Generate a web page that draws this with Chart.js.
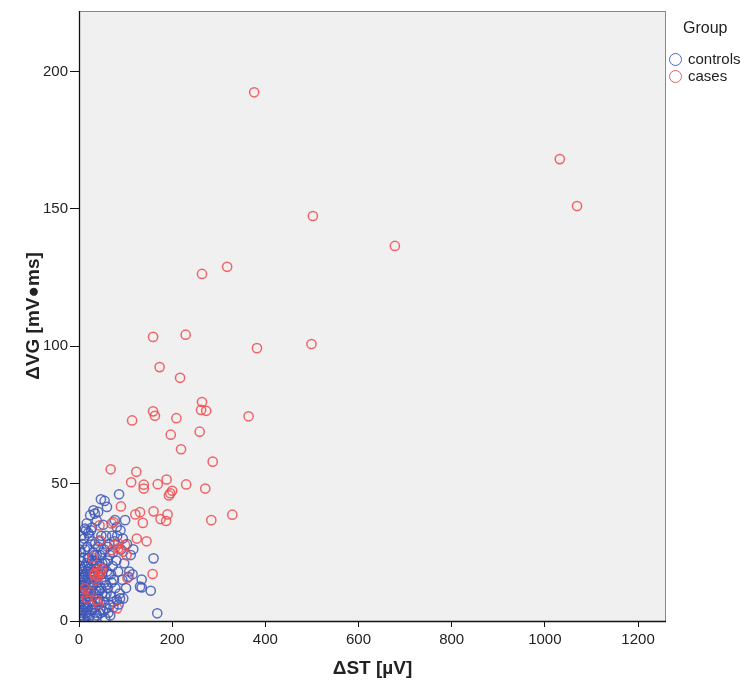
<!DOCTYPE html>
<html>
<head>
<meta charset="utf-8">
<script src="https://cdn.jsdelivr.net/npm/chart.js@4"></script>
<style>
  body { margin: 0; background: #fff; }
  #wrap { position: relative; width: 746px; height: 685px; }
  #legend { position: absolute; left: 669px; top: 19px; font-family: "Liberation Sans", Arial, sans-serif; color: #222; }
  #legend .ttl { font-size: 16px; margin-left: 14px; height: 20px; margin-bottom: 11px; }
  #legend .item { font-size: 15px; height: 17px; line-height: 17px; white-space: nowrap; }
  #legend .dot { display: inline-block; box-sizing: border-box; width: 13px; height: 13px; border-radius: 50%; border: 1.7px solid; vertical-align: -2px; margin-right: 6px; }
</style>
</head>
<body>
<div id="wrap">
  <canvas id="myChart" width="746" height="685"></canvas>
  <div id="legend">
    <div class="ttl">Group</div>
    <div class="item"><span class="dot" style="border-color: rgb(80,100,190)"></span>controls</div>
    <div class="item"><span class="dot" style="border-color: rgb(240,90,95)"></span>cases</div>
  </div>
</div>
<script>
// values: [ΔST, ΔVG]
const controls = [
  [86,46.1],[47,44.3],[55,43.7],[60,41.5],[31,40.3],[41,39.7],[34,39.1],[24,38.5],[38,36.5],[16.5,35.5],
  [13,33.6],[77,36.7],[99,36.7],[81,34.2],[52,35],[28,34],[20,32],[116.5,26.1],[160,22.8],[106,16.1],
  [115,17],[134.5,15.1],[131,12.5],[134.5,12.2],[154,11],[168,2.8],
  [88,8.2],[95,8.2],[81,7.6],[74,7],[66.5,5.8],[59,4.6],[52,3.4],[45,2.8],
  [2,1],[4,3],[1,6],[6,2],[9,4],[3,9],[7,7],[11,1],[13,5],[5,12],[10,10],[15,3],[17,8],[8,15],[12,13],
  [19,5],[21,11],[14,17],[6,19],[18,15],[23,2],[25,7],[16,21],[10,23],[3,16],[20,19],[27,13],[29,4],
  [24,17],[13,26],[7,28],[22,23],[31,9],[33,15],[26,21],[18,27],[11,30],[4,25],[30,25],[35,5],[37,11],
  [28,29],[36,19],[39,2],[40,14],[34,28],[42,8],[44,20],[22,31],[38,24],[46,4],[47,12],[43,29],[49,17],
  [51,25],[53,7],[55,14],[48,31],[57,21],[59,10],[61,27],[63,3],[64,17],[66,24],[68,9],[70,14],[58,31],
  [72,20],[74,5],[76,29],[78,12],[80,22],[84,18],[87,10],[90,26],[93,15],[97,21],[101,12],[103,28],
  [108,18],[111,24],[2,20],[5,31],[15,33],[26,33],[1,13],[9,18],[17,2],[32,1],[45,24],[52,19],[62,12],
  [71,31],[82,31],[89,33],[94,30],[67,2],[56,1],[24,10],[35,22],[41,27],[50,10],[60,18],[73,25],[85,6],
  [1,2],[3,5],[2,11],[4,14],[1,17],[3,22],[2,26],[5,8],[6,4],[8,10],[7,13],[9,1],[10,6],[12,8],[11,16],
  [14,11],[16,5],[15,14],[13,20],[17,18],[19,23],[20,9],[21,1],[22,14],[23,19],[25,4],[26,11],[27,16],
  [28,22],[30,6],[31,13],[32,18],[33,24],[34,10],[36,3],[37,15],[39,21],[40,7],[42,17],[44,11],[45,7],
  [48,15],[50,21],[54,26],[56,9],[58,13],[62,22],[65,28],[69,17],[75,15]
];

const cases = [
  [376,192.4],[1032,168.1],[1069,151],[502,147.4],[678,136.5],[318,128.9],[264,126.3],
  [159,103.4],[229,104.2],[382,99.3],[499,100.8],[173,92.4],[217,88.5],[264,79.7],[262,76.8],
  [273,76.5],[159,76.3],[163,74.7],[209,73.8],[114,73.0],[364,74.5],[259,68.9],[197,67.8],
  [219,62.5],[68,55.2],[123,54.3],[287,58.0],[112,50.5],[139,49.6],[139,48.2],[169,49.8],
  [188,51.5],[230,49.7],[271,48.2],[200,47.4],[196,46.5],[193,45.7],[90,41.7],[121,38.8],
  [131,39.6],[160,39.9],[190,38.8],[175,37.1],[187,36.4],[137,35.7],[284,36.7],[329,38.7],
  [124,30.0],[145,29.0],[44,34.8],[70,35.5],[74,36.0],[45,29.4],[84,28.2],[99,27.6],[84,26.4],
  [70,25.8],[95,25.2],[102,23.9],[29,23.1],[38,18.5],[45,17.3],[34,17.3],[41,16.1],[49,19.1],
  [158,17.1],[104,15.7],[13,11.9],[9,10.1],[16.5,8.2],[38,7.6],[41,6.4],[82,4.6],[22,10.6],
  [36,14.9],[76,27.6],[47,17.9],[33,16.7]
];

const xTicks = [0, 200, 400, 600, 800, 1000, 1200];
const yTicks = [0, 50, 100, 150, 200];

const toPts = arr => arr.map(p => ({ x: p[0], y: p[1] }));

// grey plot area + frame like the SPSS output
const plotFrame = {
  id: 'plotFrame',
  beforeDraw(chart) {
    const { ctx, chartArea: a } = chart;
    ctx.save();
    ctx.fillStyle = '#f0f0f0';
    ctx.fillRect(a.left, a.top, a.right - a.left, a.bottom - a.top);
    ctx.strokeStyle = '#888';
    ctx.lineWidth = 1;
    ctx.strokeRect(a.left + 0.5, a.top + 0.5, a.right - a.left - 1, a.bottom - a.top);
    ctx.restore();
  },
  afterDraw(chart) {
    const { ctx, chartArea: a } = chart;
    ctx.save();
    ctx.strokeStyle = '#111';
    ctx.lineWidth = 1.3;
    ctx.beginPath();
    ctx.moveTo(a.left + 0.5, a.top);
    ctx.lineTo(a.left + 0.5, a.bottom + 0.5);
    ctx.lineTo(a.right, a.bottom + 0.5);
    ctx.stroke();
    ctx.restore();
  }
};

const tickFont = { family: '"Liberation Sans", Arial, sans-serif', size: 15 };
const titleFont = { family: '"Liberation Sans Narrow", "Liberation Sans", Arial, sans-serif', size: 19, weight: 'bold' };
const plain = v => String(v);

const config = {
  type: 'scatter',
  data: {
    datasets: [
      {
        label: 'cases',
        data: toPts(cases),
        borderColor: 'rgba(240,75,80,0.85)',
        backgroundColor: 'rgba(0,0,0,0)',
        pointRadius: 4.6,
        borderWidth: 1.5
      },
      {
        label: 'controls',
        data: toPts(controls),
        borderColor: 'rgba(65,88,185,0.85)',
        backgroundColor: 'rgba(0,0,0,0)',
        pointRadius: 4.6,
        borderWidth: 1.5
      }
    ]
  },
  options: {
    responsive: false,
    animation: false,
    layout: { padding: { top: 10, right: 80, bottom: 0, left: 0 } },
    plugins: { legend: { display: false }, tooltip: { enabled: false } },
    scales: {
      x: {
        type: 'linear',
        min: 0,
        max: 1260,
        afterBuildTicks: s => { s.ticks = xTicks.map(v => ({ value: v })); },
        afterFit: s => { s.height = 64; },
        grid: { drawOnChartArea: false, drawTicks: true, tickLength: 6, color: '#111' },
        border: { display: false },
        ticks: { font: tickFont, color: '#222', padding: 4, maxRotation: 0, callback: plain },
        title: { display: true, text: 'ΔST [µV]', font: titleFont, color: '#222', padding: { top: 5, bottom: 5 } }
      },
      y: {
        type: 'linear',
        min: 0,
        max: 222,
        afterBuildTicks: s => { s.ticks = yTicks.map(v => ({ value: v })); },
        afterFit: s => { s.width = 79; },
        grid: { drawOnChartArea: false, drawTicks: true, tickLength: 9, color: '#111' },
        border: { display: false },
        ticks: { font: tickFont, color: '#222', padding: 2, callback: plain },
        title: { display: true, text: 'ΔVG [mV●ms]', font: titleFont, color: '#222', padding: { top: 22, bottom: 22 } }
      }
    }
  },
  plugins: [plotFrame]
};

const myChart = new Chart(document.getElementById('myChart'), config);
</script>
</body>
</html>
